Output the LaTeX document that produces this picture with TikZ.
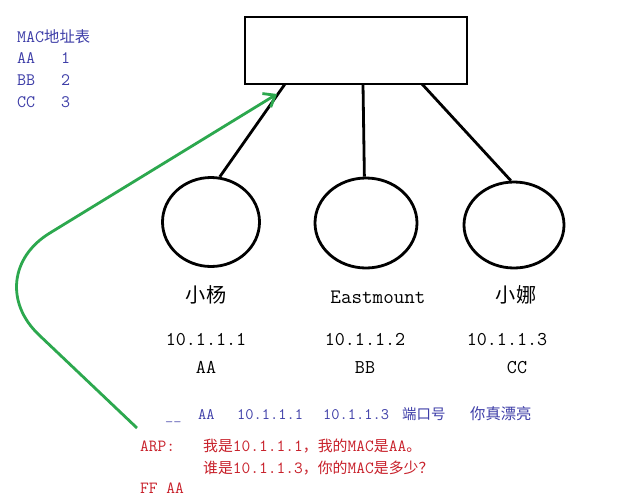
\documentclass[tikz,border=0pt]{standalone}
\usepackage{fontspec}
\newfontfamily\cjk[Scale=0.875]{Noto Sans CJK SC}
\usetikzlibrary{shapes.geometric,arrows.meta,positioning}
\definecolor{tblblue}{RGB}{62,62,168}
\definecolor{arpred}{RGB}{200,32,42}
\definecolor{arpgreen}{RGB}{44,168,78}

\begin{document}
\begin{tikzpicture}[x=1pt,y=-1pt,
    wire/.style={line width=2.8pt},
    host/.style={draw, ellipse, line width=2.8pt, inner sep=0pt},
    lbl/.style={anchor=base, inner sep=0pt, font=\fontsize{19.5}{19.5}\ttfamily},
    tbl/.style={anchor=base west, inner sep=0pt, text=tblblue, font=\fontsize{17.5}{17.5}\ttfamily},
    frame/.style={anchor=base west, inner sep=0pt, text=tblblue, font=\fontsize{16}{16}\ttfamily},
    arp/.style={anchor=base west, inner sep=0pt, text=arpred, font=\fontsize{17}{17}\ttfamily}]
  \useasboundingbox[fill=white] (0,0) rectangle (640,501);

  % switch and hosts
  \node[draw, wire, inner sep=0pt, minimum width=222pt, minimum height=67pt] (switch) at (356,50.5) {};
  \node[host, minimum width=97pt, minimum height=89pt] (h1) at (211,222) {};
  \node[host, minimum width=102pt, minimum height=90pt] (h2) at (366,223) {};
  \node[host, minimum width=100pt, minimum height=86pt] (h3) at (514,225) {};

  \coordinate (port1) at (285,84);
  \coordinate (port2) at (363,84);
  \coordinate (port3) at (422,84);
  \draw[wire] (port1) -- (h1.79);
  \draw[wire] (port2) -- (h2.92);
  \draw[wire] (port3) -- (h3.94);

  % host labels
  \node[lbl, font=\fontsize{23}{23}\cjk] (name1) at (206,302) {小杨};
  \node[lbl, font=\fontsize{20.5}{20.5}\ttfamily] (name2) at (378,303) {Eastmount};
  \node[lbl, font=\fontsize{23}{23}\cjk] (name3) at (516,302) {小娜};
  \node[lbl] (ip1) at (206,345) {10.1.1.1};
  \node[lbl] (ip2) at (365,345) {10.1.1.2};
  \node[lbl] (ip3) at (507,345) {10.1.1.3};
  \node[lbl] (mac1) at (206,373) {AA};
  \node[lbl] (mac2) at (365,373) {BB};
  \node[lbl] (mac3) at (517,373) {CC};

  % MAC table
  \node[tbl] (tblhead) at (17,42) {MAC{\cjk 地址表}};
  \foreach \mac/\port [count=\i] in {AA/1,BB/2,CC/3} {
    \node[tbl] (tblmac\i) at (17,42+21.7*\i) {\mac};
    \node[tbl] (tblport\i) at (61,42+21.7*\i) {\port};
  }

  % frame fields
  \node[frame, text=tblblue!70] (rowul) at (165,419) {\_\_};
  \node[frame] (rowmac) at (198,419) {AA};
  \node[frame] (rowsip) at (237,419) {10.1.1.1};
  \node[frame] (rowdip) at (323,419) {10.1.1.3};
  \node[frame, font=\fontsize{16.5}{16.5}\cjk] (rowport) at (402,419) {端口号};
  \node[frame, font=\fontsize{17.5}{17.5}\cjk] (rowmsg) at (470,419) {你真漂亮};

  % ARP request
  \node[arp] (arphead) at (140,451) {ARP:};
  \node[arp] (arpline1) at (203,451) {{\cjk 我是}10.1.1.1{\cjk ，我的}MAC{\cjk 是}AA{\cjk 。}};
  \node[arp] (arpline2) at (203,473) {{\cjk 谁是}10.1.1.3{\cjk ，你的}MAC{\cjk 是多少？}};
  \node[arp] (arpdst) at (140,493) {FF AA};

  \coordinate (arpsrc) at (137,428);
  \coordinate (arpbend) at (-22,277);
  \coordinate (arptip) at (277,94);
  \draw[arpgreen, line width=2.8pt, rounded corners=84pt,
    -{Straight Barb[length=10pt,width=16pt]}] (arpsrc) -- (arpbend) -- (arptip);
\end{tikzpicture}
\end{document}
